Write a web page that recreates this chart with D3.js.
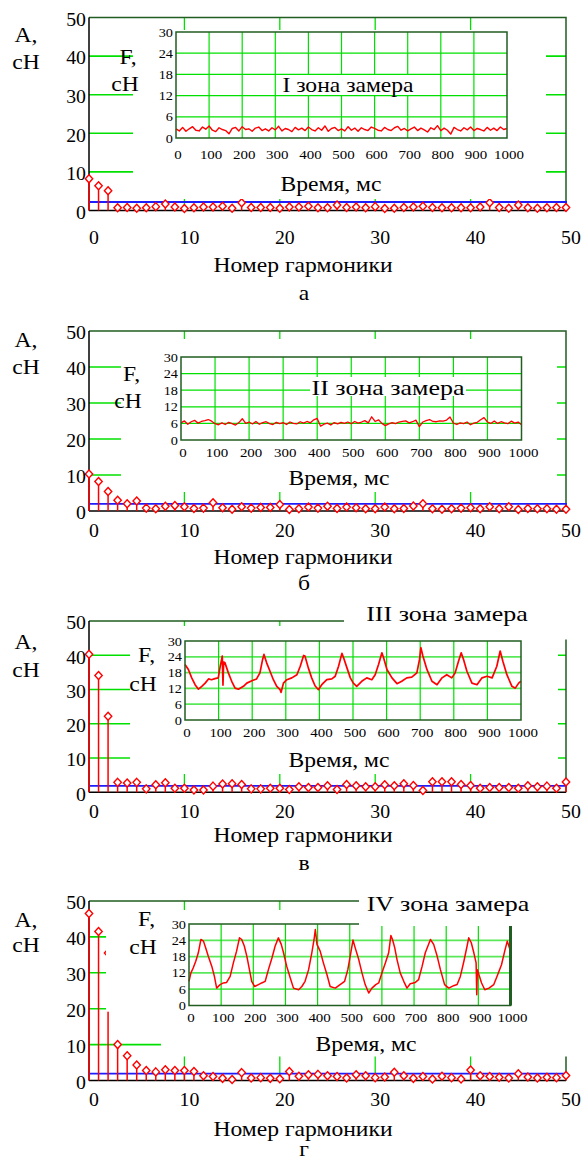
<!DOCTYPE html>
<html>
<head>
<meta charset="utf-8">
<script src="https://cdn.jsdelivr.net/npm/d3@7"></script>
<style>
  body { margin: 0; background: #fff; }
  svg { display: block; }
  text { font-family: "Liberation Serif", "DejaVu Serif", "Times New Roman", serif; }
</style>
</head>
<body>
<script>
// Harmonic spectra (stem plots) for four measuring zones, each with a force-vs-time inset.

// ---- data ----
const harmonics = d3.range(0, 51);

const ampI = [8.2, 6.4, 5.1, 0.7, 0.8, 0.6, 0.7, 1.0, 1.7, 0.9,
              0.5, 0.7, 0.9, 0.9, 1.1, 0.6, 2.0, 0.8, 0.8, 0.8,
              0.6, 0.9, 0.9, 1.1, 0.7, 0.7, 1.4, 0.8, 0.9, 0.7,
              1.0, 0.5, 0.6, 0.8, 0.9, 1.1, 0.8, 0.7, 0.7, 0.7,
              0.7, 0.9, 2.0, 0.8, 0.6, 1.4, 0.7, 0.6, 0.7, 0.8, 0.8];
const ampII = [10.3, 8.2, 5.4, 3.0, 2.0, 2.8, 0.8, 0.6, 1.3, 1.5,
               1.2, 0.7, 0.8, 2.3, 0.9, 0.5, 1.2, 0.8, 1.0, 1.0,
               1.8, 0.4, 0.6, 1.1, 0.8, 1.3, 0.7, 1.1, 0.9, 0.6,
               0.6, 1.1, 0.6, 0.7, 1.4, 2.0, 0.6, 0.5, 0.6, 0.8,
               0.9, 0.6, 1.2, 0.6, 1.2, 0.4, 0.7, 0.6, 0.6, 0.5, 0.5];
const ampIII = [40.3, 34.1, 22.2, 2.9, 2.7, 2.9, 1.0, 2.2, 2.8, 1.2,
                1.2, 0.7, 0.7, 1.8, 2.4, 2.5, 2.3, 1.0, 1.0, 1.2,
                1.2, 0.8, 1.6, 1.4, 1.4, 1.9, 0.8, 2.3, 1.9, 1.6,
                1.6, 2.2, 1.9, 2.5, 2.0, 0.5, 3.1, 3.1, 3.1, 2.3,
                2.0, 1.2, 1.4, 1.4, 1.4, 1.2, 1.9, 1.6, 1.8, 1.2, 3.0];
const ampIV = [46.5, 41.5, 35.5, 10.0, 6.9, 4.3, 2.8, 2.4, 3.0, 2.8,
               2.8, 2.5, 1.3, 1.1, 0.6, 0.3, 2.2, 0.7, 0.8, 0.6,
               0.5, 2.5, 1.2, 1.6, 1.7, 1.3, 1.1, 0.7, 1.6, 1.3,
               0.8, 1.0, 2.3, 1.3, 0.6, 1.1, 0.4, 1.2, 0.8, 0.4,
               2.9, 1.3, 1.1, 0.9, 0.7, 1.9, 1.0, 0.7, 0.9, 0.8, 1.4];
const meanLevels = [2.2, 2.0, 1.9, 1.9];

const mainTicks = [0, 10, 20, 30, 40, 50];
const insetYTicks = [0, 6, 12, 18, 24, 30];
const insetXTicks = [0, 100, 200, 300, 400, 500, 600, 700, 800, 900, 1000];
const zoneTitles = ['I зона замера', 'II зона замера', 'III зона замера', 'IV зона замера'];
const panelLetters = ['а', 'б', 'в', 'г'];

// force signals, cN (time in ms)
const timeI = d3.range(0, 1001, 10);
const forceI = [2.6, 2.0, 3.0, 1.9, 2.6, 3.2, 2.2, 2.0, 3.1, 2.5,
                3.4, 2.2, 1.8, 2.9, 2.4, 2.1, 1.2, 2.7, 3.0, 2.0,
                3.2, 2.4, 2.6, 1.9, 2.8, 3.1, 2.1, 2.6, 2.0, 2.9,
                2.3, 3.3, 2.0, 2.7, 2.4, 1.8, 3.0, 2.3, 2.8, 2.1,
                3.1, 2.4, 2.0, 2.9, 2.2, 3.4, 1.9, 2.7, 3.0, 2.1,
                2.6, 2.0, 3.2, 2.2, 2.8, 1.9, 2.9, 2.4, 2.1, 3.1,
                2.7, 2.2, 2.0, 3.0, 2.4, 2.1, 2.9, 3.3, 2.2, 2.7,
                2.0, 2.6, 3.1, 2.1, 2.8, 2.3, 1.7, 2.9, 2.4, 3.5,
                2.1, 2.8, 2.2, 1.1, 3.0, 2.4, 2.0, 2.9, 2.3, 3.1,
                2.1, 2.7, 2.4, 2.0, 3.0, 2.2, 2.8, 2.1, 3.1, 2.4, 2.7];
const timeII = d3.range(0, 1001, 10);
const forceII = [6.2, 6.9, 5.7, 6.6, 7.1, 6.1, 6.7, 7.0, 7.4, 6.8,
                 5.9, 5.5, 6.2, 5.6, 6.4, 5.9, 5.4, 6.3, 7.7, 6.0,
                 6.5, 5.8, 6.7, 5.7, 6.3, 6.6, 5.9, 5.6, 6.4, 5.9,
                 6.3, 5.6, 6.5, 6.0, 5.8, 6.6, 6.1, 6.7, 6.2, 7.3,
                 7.8, 5.0, 5.7, 6.1, 5.4, 6.3, 5.8, 6.4, 6.0, 6.5,
                 5.9, 6.7, 6.1, 6.5, 7.0, 6.2, 8.4, 6.7, 7.3, 6.0,
                 5.2, 5.8, 6.3, 5.9, 6.5, 6.7, 6.9, 6.2, 6.6, 7.2,
                 4.8, 6.5, 7.0, 7.4, 6.7, 6.6, 6.9, 6.8, 7.2, 8.3,
                 6.1, 5.6, 6.2, 5.9, 6.5, 5.5, 6.1, 6.4, 7.3, 8.1,
                 6.5, 6.0, 6.9, 6.0, 6.6, 6.2, 5.9, 6.8, 6.1, 6.5, 5.5];
const timeIII = [0, 10, 20, 30, 40, 50, 60, 70, 79, 89, 99, 104, 111, 113, 115, 119, 129, 139, 149, 159,
                 174, 184, 199, 213, 223, 231, 235, 243, 253, 263, 273, 283, 286, 293, 303, 318, 333, 343, 353, 357,
                 367, 377, 387, 397, 407, 422, 437, 447, 457, 467, 472, 482, 492, 501, 511, 526, 541, 556, 566, 576,
                 586, 591, 601, 616, 631, 645, 660, 675, 690, 698, 702, 708, 720, 735, 750, 765, 779, 794, 804, 814,
                 822, 829, 839, 854, 869, 884, 899, 914, 928, 938, 946, 958, 973, 983, 993, 1000];
const forceIII = [21.1, 19.2, 16.0, 13.4, 11.7, 12.8, 14.0, 15.6, 15.3, 15.7, 16.0, 19.8, 24.3, 13.2, 22.0, 21.7, 17.9, 14.7, 12.1, 11.7,
                  12.8, 14.0, 14.9, 15.6, 17.9, 23.0, 24.9, 21.7, 18.5, 15.3, 12.8, 11.5, 10.5, 14.0, 15.3, 16.0, 17.2, 20.4, 24.5, 24.3,
                  19.8, 16.0, 13.0, 11.5, 13.4, 15.3, 15.6, 16.6, 20.4, 25.3, 23.6, 19.8, 16.0, 14.0, 12.8, 14.7, 16.0, 15.3, 17.2, 21.1,
                  25.5, 23.6, 19.2, 16.0, 13.8, 14.7, 16.0, 16.3, 17.9, 23.0, 27.5, 24.3, 19.2, 14.7, 13.4, 16.0, 17.2, 16.0, 17.9, 22.3,
                  25.5, 23.0, 18.5, 14.0, 13.4, 16.0, 16.6, 16.0, 20.4, 26.2, 22.3, 17.2, 12.8, 12.1, 14.0, 14.7];
const timeIV = [0, 6, 13, 21, 29, 37, 45, 52, 60, 71, 79, 86, 97, 107, 117, 128, 138, 148, 157, 164,
                172, 180, 188, 195, 204, 216, 226, 237, 247, 258, 268, 278, 287, 294, 304, 315, 325, 341, 351, 361,
                372, 382, 389, 393, 398, 408, 418, 429, 439, 455, 470, 484, 494, 505, 510, 517, 528, 538, 548, 559,
                569, 581, 590, 600, 611, 621, 628, 633, 640, 647, 657, 668, 678, 688, 704, 714, 725, 735, 751, 761,
                772, 782, 795, 808, 823, 834, 844, 855, 865, 870, 878, 886, 893, 895, 897, 910, 920, 933, 948, 958,
                972, 982, 990, 1000];
const forceIV = [8.9, 12.0, 13.8, 16.3, 19.4, 24.3, 23.7, 21.2, 18.1, 14.4, 10.7, 6.4, 7.7, 8.3, 8.5, 10.7, 15.7, 20.0, 24.9, 24.3,
                 21.9, 18.1, 13.2, 8.9, 7.0, 7.7, 8.3, 8.9, 13.2, 17.5, 21.9, 24.9, 22.5, 19.4, 14.4, 10.1, 6.4, 5.8, 7.0, 8.9,
                 13.2, 19.4, 24.3, 28.0, 22.5, 20.0, 15.7, 11.4, 7.0, 6.4, 7.7, 8.9, 13.2, 20.6, 24.1, 21.2, 16.9, 12.0, 7.7, 4.6,
                 6.4, 7.7, 8.3, 12.0, 15.7, 19.4, 25.8, 24.3, 21.2, 16.9, 12.0, 8.9, 6.4, 8.0, 8.5, 9.5, 14.4, 19.4, 24.3, 22.5,
                 18.1, 13.2, 7.7, 6.4, 7.3, 7.7, 10.7, 16.3, 21.9, 24.9, 23.1, 19.4, 15.7, 4.0, 13.2, 8.3, 5.8, 6.4, 7.7, 10.7,
                 15.0, 20.0, 23.7, 20.0];

const amps = [ampI, ampII, ampIII, ampIV];
const signals = [[timeI, forceI], [timeII, forceII], [timeIII, forceIII], [timeIV, forceIV]];

// ---- layout of each panel (pixels) ----
const panels = [
  { top: 17.5, base: 210.5, xLab: 27, xTitle: 265, letter: 293, aLab: [35, 62],
    masks: [[133, 30, 413, 169]],
    inset: { l: 176, r: 507, t: 32, b: 138, lab: 16, lw: 1.4 },
    F: [128, 57], cH: [125, 84], vr: [331, 184],
    title: [348, 85, 20], box: [283, 75, 134, 20] },
  { top: 331, base: 511, xLab: 20, xTitle: 557, letter: 583, aLab: [340, 367],
    masks: [[121, 339, 436, 153]],
    inset: { l: 181, r: 521.5, t: 357, b: 440, lab: 12.5, lw: 1.3 },
    F: [131.5, 373.5], cH: [128, 400.5], vr: [339, 477.5],
    title: [388, 387, 22], box: [310, 377, 156, 19] },
  { top: 621, base: 792.3, xLab: 19.5, xTitle: 835, letter: 863, aLab: [642, 670],
    masks: [[130, 626, 428, 148]],
    inset: { l: 185, r: 521, t: 641, b: 720, lab: 12, lw: 1.7 },
    F: [146.5, 655], cH: [143, 683.5], vr: [339, 759.5],
    title: [447, 613.5, 22], box: [344, 598, 240, 41.5] },
  { top: 901, base: 1080.5, xLab: 19.5, xTitle: 1129, letter: 1149, aLab: [920, 945],
    masks: [[106, 910, 469, 101.7], [161, 1011, 414, 45.5]],
    inset: { l: 189, r: 510.5, t: 924, b: 1005.5, lab: 11.5, lw: 1.5, thickRight: true },
    F: [146.5, 918.5], cH: [143, 947], vr: [366, 1044],
    title: [448, 903.5, 22], box: [359, 885, 230, 41] }
];

const plotLeft = 89, plotRight = 566;
const green = '#00e000', gridLight = '#5ae85a', frame = '#215e21', red = '#ff0000', blue = '#1c1cff';

const svg = d3.select('body').append('svg')
  .attr('width', 581)
  .attr('height', 1164);

// text with a slight horizontal stretch, like the scanned figure
function label(g, x, y, str, size, anchor, sx) {
  return g.append('text')
    .attr('transform', `translate(${x},${y}) scale(${sx || 1.18},1)`)
    .attr('text-anchor', anchor || 'middle')
    .attr('dy', '0.35em')
    .attr('font-family', '"Liberation Serif", "DejaVu Serif", serif')
    .style('font-size', size + 'px')
    .style('fill', '#000')
    .text(str);
}

const x = d3.scaleLinear().domain([0, 50]).range([plotLeft, plotRight]);

panels.forEach(function(p, i) {
  let g = svg.append('g');
  let y = d3.scaleLinear().domain([0, 50]).range([p.base, p.top]);
  let inner = mainTicks.slice(1, -1);

  // grid lines of the main plot
  g.selectAll('.hgrid').data(inner).join('line')
    .attr('x1', plotLeft).attr('x2', plotRight)
    .attr('y1', (d) => y(d)).attr('y2', (d) => y(d))
    .style('stroke', green).style('stroke-width', 1.6);
  g.selectAll('.vgrid').data(inner).join('line')
    .attr('x1', (d) => x(d)).attr('x2', (d) => x(d))
    .attr('y1', p.top).attr('y2', p.base)
    .style('stroke', green).style('stroke-width', 1.3);

  // frame: top and right dark green, axes black
  g.append('path')
    .attr('d', `M${plotLeft},${p.top}H${plotRight}V${p.base}`)
    .style('fill', 'none').style('stroke', frame).style('stroke-width', 1.5);
  g.append('line')
    .attr('x1', plotLeft).attr('x2', plotLeft).attr('y1', p.top).attr('y2', p.base)
    .style('stroke', '#000').style('stroke-width', 1.5);
  g.append('line')
    .attr('x1', plotLeft).attr('x2', plotRight).attr('y1', p.base).attr('y2', p.base)
    .style('stroke', '#000').style('stroke-width', 1.5);

  // mean level
  g.append('line')
    .attr('x1', plotLeft).attr('x2', plotRight + 1)
    .attr('y1', y(meanLevels[i])).attr('y2', y(meanLevels[i]))
    .style('stroke', blue).style('stroke-width', 1.8);

  // stems and diamond markers
  let pts = harmonics.map((h, k) => ({ h: h, a: amps[i][k] }));
  g.selectAll('.stem').data(pts).join('line')
    .attr('x1', (d) => x(d.h)).attr('x2', (d) => x(d.h))
    .attr('y1', p.base).attr('y2', (d) => y(d.a))
    .style('stroke', red).style('stroke-width', 1.5);
  g.selectAll('.mark').data(pts).join('path')
    .attr('d', (d) => `M${x(d.h)},${y(d.a) - 4}l3.7,4l-3.7,4l-3.7,-4z`)
    .style('fill', '#fff').style('stroke', red).style('stroke-width', 1.4);

  // white regions that hide the plot behind the inset
  p.masks.forEach(function(m) {
    g.append('rect').attr('x', m[0]).attr('y', m[1]).attr('width', m[2]).attr('height', m[3])
      .style('fill', '#fff');
  });

  // ---- inset ----
  let s = p.inset;
  let ix = d3.scaleLinear().domain([0, 1000]).range([s.l, s.r]);
  let iy = d3.scaleLinear().domain([0, 30]).range([s.b, s.t]);
  g.append('rect').attr('x', s.l).attr('y', s.t).attr('width', s.r - s.l).attr('height', s.b - s.t)
    .style('fill', '#fff');
  g.selectAll('.ihgrid').data(insetYTicks.slice(1, -1)).join('line')
    .attr('x1', s.l).attr('x2', s.r).attr('y1', (d) => iy(d)).attr('y2', (d) => iy(d))
    .style('stroke', i < 2 ? green : gridLight).style('stroke-width', i < 2 ? 1.2 : 1.8);
  g.selectAll('.ivgrid').data(insetXTicks.slice(1, -1)).join('line')
    .attr('x1', (d) => ix(d)).attr('x2', (d) => ix(d)).attr('y1', s.t).attr('y2', s.b)
    .style('stroke', green).style('stroke-width', 1.2);

  let sig = signals[i][0].map((t, k) => [t, signals[i][1][k]]);
  g.append('path').datum(sig)
    .attr('d', d3.line().x((d) => ix(d[0])).y((d) => iy(d[1])))
    .style('fill', 'none').style('stroke', red).style('stroke-width', s.lw)
    .style('stroke-linejoin', 'round');

  g.append('rect').attr('x', s.l).attr('y', s.t).attr('width', s.r - s.l).attr('height', s.b - s.t)
    .style('fill', 'none').style('stroke', frame).style('stroke-width', 1.5);
  if (s.thickRight) {
    g.append('line').attr('x1', s.r).attr('x2', s.r).attr('y1', s.t).attr('y2', s.b)
      .style('stroke', frame).style('stroke-width', 3);
  }

  insetYTicks.forEach(function(v) {
    label(g, s.l - 3, iy(v), v, 13, 'end', 1.1);
  });
  insetXTicks.forEach(function(v) {
    label(g, ix(v) + 2, s.b + s.lab, v, 13, 'middle', 1.15);
  });

  label(g, p.F[0], p.F[1], 'F,', 20);
  label(g, p.cH[0], p.cH[1], 'сН', 20);
  label(g, p.vr[0], p.vr[1], 'Время, мс', 20);

  // zone title on its own white box
  g.append('rect').attr('x', p.box[0]).attr('y', p.box[1]).attr('width', p.box[2]).attr('height', p.box[3])
    .style('fill', '#fff');
  label(g, p.title[0], p.title[1], zoneTitles[i], p.title[2]);

  // ---- main axis labels ----
  mainTicks.forEach(function(v) {
    label(g, 86, y(v) + 2, v, 18, 'end', 1.1);
    label(g, x(v) + 5, p.base + p.xLab, v, 18, 'middle', 1.1);
  });
  label(g, 26, p.aLab[0], 'А,', 20);
  label(g, 26, p.aLab[1], 'сН', 20);
  label(g, 303, p.xTitle, 'Номер гармоники', 20);
  label(g, 304, p.letter, panelLetters[i], 20);
});
</script>
</body>
</html>
